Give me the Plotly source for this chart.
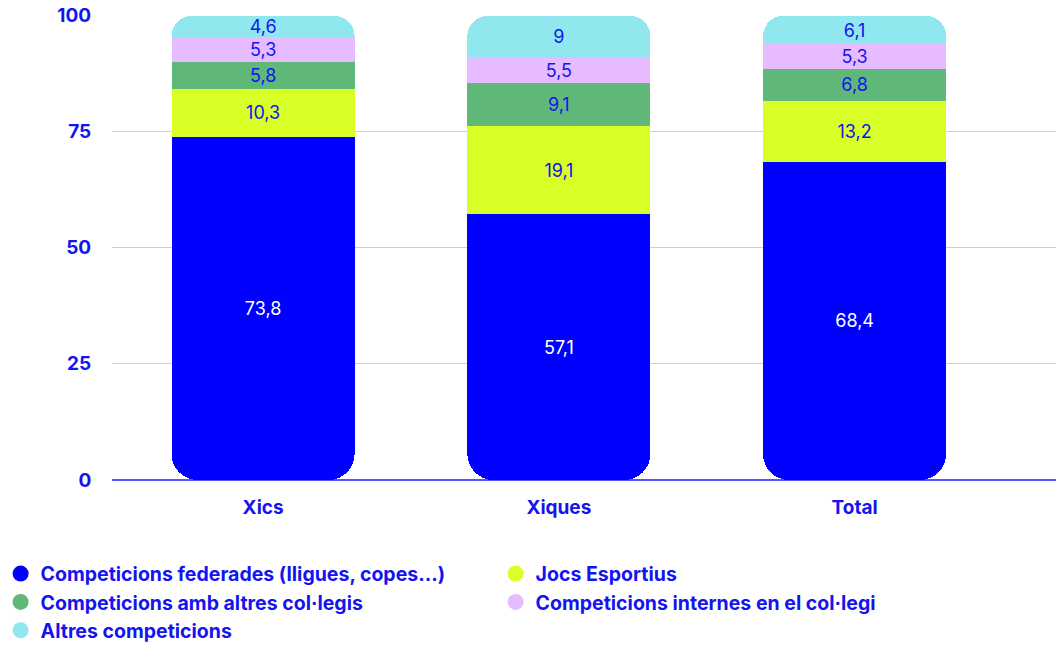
import plotly.graph_objects as go

# Categories and series (percentages)
categories = ["Xics", "Xiques", "Total"]
series_names = [
    "Competicions federades (lligues, copes…)",
    "Jocs Esportius",
    "Competicions amb altres col·legis",
    "Competicions internes en el col·legi",
    "Altres competicions",
]
federades = [73.8, 57.1, 68.4]
jocs = [10.3, 19.1, 13.2]
altres_collegis = [5.8, 9.1, 6.8]
internes = [5.3, 5.5, 5.3]
altres = [4.6, 9.0, 6.1]
y_ticks = [0, 25, 50, 75, 100]

colors = ["#0000ff", "#d8ff26", "#5fb878", "#e6bbff", "#90e7ee"]
text_blue = "#1414f0"
FONT = "Inter, Roboto, sans-serif"
BAR_W = 0.619


def fmt(v):
    s = f"{v:.1f}".replace(".", ",")
    return s[:-2] if s.endswith(",0") else s


upper_series = [jocs, altres_collegis, internes, altres]

fig = go.Figure()

# Main stack (y): invisible placeholder for the bottom segment, then the
# upper segments; the top of the stack gets rounded corners.
fig.add_trace(go.Bar(
    x=categories, y=federades, yaxis="y",
    marker=dict(color="rgba(0,0,0,0)", cornerradius=20, line=dict(width=0)),
    width=BAR_W, showlegend=False, hoverinfo="skip",
))
for i, vals in enumerate(upper_series, start=1):
    fig.add_trace(go.Bar(
        x=categories, y=vals, yaxis="y",
        marker=dict(color=colors[i], line=dict(width=0)),
        text=[fmt(v) for v in vals], textposition="inside",
        insidetextanchor="middle", constraintext="none",
        textfont=dict(family=FONT, size=18, color=text_blue),
        width=BAR_W, showlegend=False, hoverinfo="skip",
    ))

# Bottom segment on a reversed overlay axis, so the rounded end of its
# stack sits at the baseline.
fig.add_trace(go.Bar(
    x=categories, y=[100 - v for v in federades], yaxis="y2",
    marker=dict(color="rgba(0,0,0,0)", cornerradius=26, line=dict(width=0)),
    width=BAR_W, showlegend=False, hoverinfo="skip",
))
fig.add_trace(go.Bar(
    x=categories, y=federades, yaxis="y2",
    marker=dict(color=colors[0], line=dict(width=0)),
    text=[fmt(v) for v in federades], textposition="inside",
    insidetextanchor="middle", constraintext="none",
    textfont=dict(family=FONT, size=18, color="white"),
    width=BAR_W, showlegend=False, hoverinfo="skip",
))

# Legend entries with round markers
for idx in range(5):
    fig.add_trace(go.Scatter(
        x=[None], y=[None], mode="markers", name=series_names[idx],
        marker=dict(symbol="circle", size=20, color=colors[idx]),
    ))

fig.update_layout(
    width=1056, height=652,
    margin=dict(l=112, r=0, t=15, b=172),
    paper_bgcolor="white", plot_bgcolor="white",
    barmode="stack",
    uniformtext=dict(minsize=18, mode="show"),
    font=dict(family=FONT, color=text_blue),
    showlegend=True,
    legend=dict(
        orientation="h", traceorder="normal",
        x=-0.118, xanchor="left", y=-0.16, yanchor="top",
        entrywidth=450, entrywidthmode="pixels",
        font=dict(family=FONT, size=19.5, color=text_blue, weight="bold"),
        itemwidth=30, tracegroupgap=0,
    ),
    xaxis=dict(
        range=[-0.511, 2.681], showgrid=False,
        ticks="outside", ticklen=10, tickcolor="rgba(0,0,0,0)",
        tickfont=dict(family=FONT, size=19, color=text_blue, weight="bold"),
        showline=False, zeroline=False,
    ),
    yaxis=dict(
        range=[0, 100], tickvals=y_ticks, showgrid=True,
        gridcolor="#c9c9ff", gridwidth=1, zeroline=True,
        zerolinecolor="#5555ff", zerolinewidth=1.5,
        ticks="outside", ticklen=16, tickcolor="rgba(0,0,0,0)",
        tickfont=dict(family=FONT, size=19, color=text_blue, weight="bold"),
    ),
    yaxis2=dict(
        range=[100, 0], overlaying="y", visible=False, showgrid=False,
        zeroline=False,
    ),
)

fig.write_html("out.html")
